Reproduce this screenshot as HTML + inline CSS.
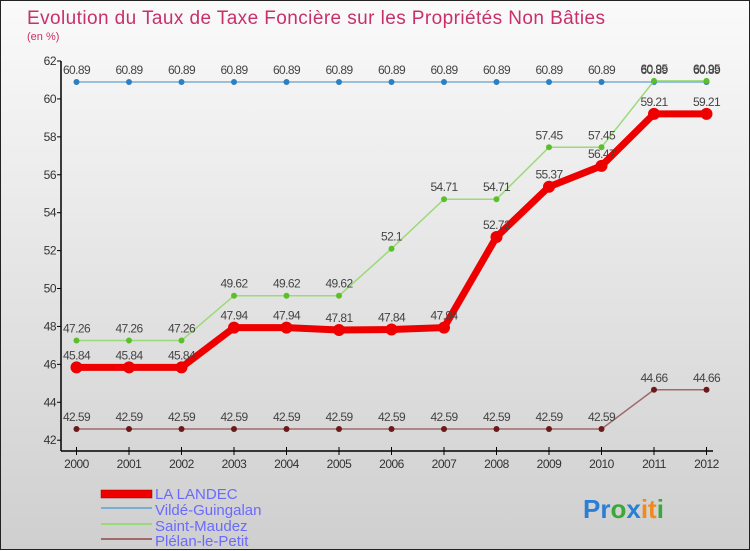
<!DOCTYPE html>
<html><head><meta charset="utf-8"><style>
body{margin:0;}
#c{width:748px;height:548px;border:1px solid #222;background:linear-gradient(#fafafa,#cfcfcf);position:relative;font-family:"Liberation Sans",sans-serif;}
svg{position:absolute;left:0;top:0}
</style></head><body>
<div id="c">
<svg id="s" width="750" height="550" font-family="Liberation Sans, sans-serif">
<text x="26" y="23" font-size="19" fill="#c8306a" textLength="578">Evolution du Taux de Taxe Foncière sur les Propriétés Non Bâties</text>
<text x="26" y="39" font-size="11" fill="#c8306a">(en %)</text>
<g id="g"></g>
<g>
<rect x="100" y="489" width="51" height="8" fill="#e00" stroke="#900" stroke-width="0.5"/>
<text x="154" y="498" font-size="15" fill="#6a6aff">LA LANDEC</text>
<rect x="100" y="506" width="51" height="2" fill="#7aaed4"/>
<text x="154" y="514" font-size="15" fill="#6a6aff">Vildé-Guingalan</text>
<rect x="100" y="522" width="51" height="2" fill="#9cd97a"/>
<text x="154" y="530" font-size="15" fill="#6a6aff">Saint-Maudez</text>
<rect x="100" y="537" width="51" height="2" fill="#a06a6a"/>
<text x="154" y="545" font-size="15" fill="#6a6aff">Plélan-le-Petit</text>
</g>
<text x="582" y="517" font-size="26" font-weight="bold"><tspan fill="#2a7fd4">Pr</tspan><tspan fill="#3aa83a">o</tspan><tspan fill="#2a7fd4">x</tspan><tspan fill="#f08a1a">it</tspan><tspan fill="#3aa83a">i</tspan></text>
</svg>
</div>
<script>
const years=[2000,2001,2002,2003,2004,2005,2006,2007,2008,2009,2010,2011,2012];
const laLandec=[45.84,45.84,45.84,47.94,47.94,47.81,47.84,47.94,52.72,55.37,56.47,59.21,59.21];
const vilde=[60.89,60.89,60.89,60.89,60.89,60.89,60.89,60.89,60.89,60.89,60.89,60.89,60.89];
const saintMaudez=[47.26,47.26,47.26,49.62,49.62,49.62,52.1,54.71,54.71,57.45,57.45,60.95,60.95];
const plelan=[42.59,42.59,42.59,42.59,42.59,42.59,42.59,42.59,42.59,42.59,42.59,44.66,44.66];
const yTicks=[42,44,46,48,50,52,54,56,58,60,62];
const NS="http://www.w3.org/2000/svg";
const g=document.getElementById('g');
const xs=i=>75.5+i*(705.5-75.5)/12;
const ys=v=>439.2-(v-42)*18.96;
function el(t,a,name){const e=document.createElementNS(NS,t);for(const k in a)e.setAttribute(k,a[k]);


g.appendChild(e);return e;}
el('line',{x1:60,y1:ys(62),x2:60,y2:450,stroke:'#000','stroke-width':1.5},'y-axis');
el('line',{x1:60,y1:450,x2:712,y2:450,stroke:'#000','stroke-width':1.5},'x-axis');
yTicks.forEach(v=>{el('line',{x1:56,x2:60,y1:ys(v),y2:ys(v),stroke:'#000'},'y-tick');
const t=el('text',{x:55,y:ys(v)+4,'font-size':12,fill:'#333','text-anchor':'end','letter-spacing':'-0.5'},'y-tick-label');t.textContent=v;});
years.forEach((y,i)=>{el('line',{x1:xs(i),x2:xs(i),y1:446,y2:454,stroke:'#000'},'x-tick');
const t=el('text',{x:xs(i),y:467,'font-size':12,fill:'#333','text-anchor':'middle','letter-spacing':'-0.5'},'x-tick-label');t.textContent=y;});
function series(vals,color,w,r,dot,name){
el('polyline',{points:vals.map((v,i)=>xs(i)+','+ys(v)).join(' '),fill:'none',stroke:color,'stroke-width':w},name+'-line');
vals.forEach((v,i)=>{el('circle',{cx:xs(i),cy:ys(v),r:r,fill:dot},name+'-point');
const t=el('text',{x:xs(i),y:ys(v)-8,'font-size':12,fill:'#444','text-anchor':'middle','letter-spacing':'-0.6'},name+'-value');t.textContent=v;});}
series(vilde,'#7aaed4',1.5,3,'#2d7fc0','vilde-guingalan');
series(plelan,'#a06a6a',1.5,3,'#6a1a1a','plelan-le-petit');
series(saintMaudez,'#9cd97a',1.5,3,'#5ac02a','saint-maudez');
series(laLandec,'#ee0000',7,6,'#ee0000','la-landec');
</script>
</body></html>
